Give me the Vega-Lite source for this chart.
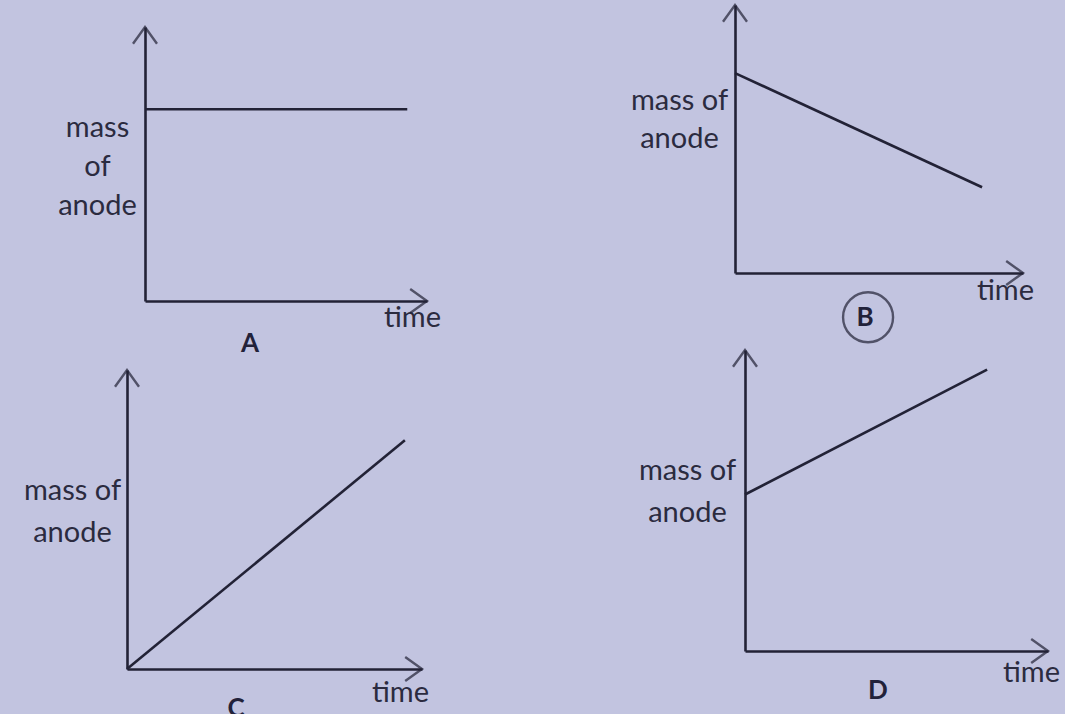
{
  "$schema": "https://vega.github.io/schema/vega-lite/v6.json",
  "background": "#c2c4e0",
  "padding": 0,
  "spacing": 0,
  "bounds": "flush",
  "align": "each",
  "columns": 2,
  "datasets": {
    "A": [{"time": 0, "mass": 0.7}, {"time": 0.93, "mass": 0.7}],
    "B": [{"time": 0, "mass": 0.746}, {"time": 0.858, "mass": 0.32}],
    "C": [{"time": 0, "mass": 0}, {"time": 0.942, "mass": 0.765}],
    "D": [{"time": 0, "mass": 0.52}, {"time": 0.799, "mass": 0.935}]
  },
  "config": {
    "view": {"stroke": null, "fill": null},
    "axis": {
      "ticks": false, "labels": false, "grid": false,
      "domainColor": "#222236", "domainWidth": 2.6,
      "titleFont": "Lato", "titleFontSize": 29, "titleFontWeight": "normal",
      "titleColor": "#2b2b3f", "titleAngle": 0, "titleAlign": "center", "titleBaseline": "middle"
    },
    "title": {"font": "Lato", "fontWeight": "bold", "fontSize": 26, "color": "#22223a", "anchor": "start", "frame": "group", "orient": "top"}
  },
  "concat": [
    {
      "width": 532, "height": 345,
      "data": {"name": "A"},
      "title": {"text": "A", "dx": 250, "offset": -370, "align": "center", "baseline": "middle"},
      "layer": [
        {
          "mark": {"type": "line", "stroke": "#222236", "strokeWidth": 2.6},
          "encoding": {
            "x": {"field": "time", "type": "quantitative",
              "scale": {"domain": [0, 1], "range": [145, 427], "nice": false, "zero": false},
              "axis": {"title": "time", "offset": -44, "titleX": 412, "titleY": 16}},
            "y": {"field": "mass", "type": "quantitative",
              "scale": {"domain": [0, 1], "range": [301, 27], "nice": false, "zero": false},
              "axis": {"title": ["mass", "of", "anode"], "offset": -145, "titleX": -48, "titleY": 127, "titleLineHeight": 39}}
          }
        },
        {
          "data": {"values": [{}]},
          "mark": {"type": "point", "shape": "M-1.4,-1L0,0L-1.4,1", "size": 576, "filled": false, "stroke": "#222236", "strokeWidth": 2.4},
          "encoding": {"x": {"datum": 1, "type": "quantitative"}, "y": {"datum": 0, "type": "quantitative"}}
        },
        {
          "data": {"values": [{}]},
          "mark": {"type": "point", "shape": "M-1,1.4L0,0L1,1.4", "size": 576, "filled": false, "stroke": "#222236", "strokeWidth": 2.4},
          "encoding": {"x": {"datum": 0, "type": "quantitative"}, "y": {"datum": 1, "type": "quantitative"}}
        }
      ]
    },
    {
      "width": 533, "height": 345,
      "data": {"name": "B"},
      "title": {"text": "B", "dx": 333, "offset": -344, "align": "center", "baseline": "middle"},
      "layer": [
        {
          "mark": {"type": "line", "stroke": "#222236", "strokeWidth": 2.6},
          "encoding": {
            "x": {"field": "time", "type": "quantitative",
              "scale": {"domain": [0, 1], "range": [203, 491], "nice": false, "zero": false},
              "axis": {"title": "time", "offset": -72, "titleX": 473, "titleY": 17}},
            "y": {"field": "mass", "type": "quantitative",
              "scale": {"domain": [0, 1], "range": [273, 5], "nice": false, "zero": false},
              "axis": {"title": ["mass of", "anode"], "offset": -203, "titleX": -56, "titleY": 100, "titleLineHeight": 38}}
          }
        },
        {
          "data": {"values": [{}]},
          "mark": {"type": "point", "shape": "M-1.4,-1L0,0L-1.4,1", "size": 576, "filled": false, "stroke": "#222236", "strokeWidth": 2.4},
          "encoding": {"x": {"datum": 1, "type": "quantitative"}, "y": {"datum": 0, "type": "quantitative"}}
        },
        {
          "data": {"values": [{}]},
          "mark": {"type": "point", "shape": "M-1,1.4L0,0L1,1.4", "size": 576, "filled": false, "stroke": "#222236", "strokeWidth": 2.4},
          "encoding": {"x": {"datum": 0, "type": "quantitative"}, "y": {"datum": 1, "type": "quantitative"}}
        },
        {
          "data": {"values": [{}]},
          "mark": {"type": "point", "shape": "circle", "size": 2500, "filled": false, "stroke": "#222236", "strokeWidth": 2.4},
          "encoding": {"x": {"datum": 0.462, "type": "quantitative"}, "y": {"datum": -0.165, "type": "quantitative"}}
        }
      ]
    },
    {
      "width": 532, "height": 369,
      "data": {"name": "C"},
      "title": {"text": "C", "dx": 236, "offset": -390, "align": "center", "baseline": "middle"},
      "layer": [
        {
          "mark": {"type": "line", "stroke": "#222236", "strokeWidth": 2.6},
          "encoding": {
            "x": {"field": "time", "type": "quantitative",
              "scale": {"domain": [0, 1], "range": [127, 422], "nice": false, "zero": false},
              "axis": {"title": "time", "offset": -45, "titleX": 400, "titleY": 23}},
            "y": {"field": "mass", "type": "quantitative",
              "scale": {"domain": [0, 1], "range": [324, 25], "nice": false, "zero": false},
              "axis": {"title": ["mass of", "anode"], "offset": -127, "titleX": -55, "titleY": 145, "titleLineHeight": 42}}
          }
        },
        {
          "data": {"values": [{}]},
          "mark": {"type": "point", "shape": "M-1.4,-1L0,0L-1.4,1", "size": 576, "filled": false, "stroke": "#222236", "strokeWidth": 2.4},
          "encoding": {"x": {"datum": 1, "type": "quantitative"}, "y": {"datum": 0, "type": "quantitative"}}
        },
        {
          "data": {"values": [{}]},
          "mark": {"type": "point", "shape": "M-1,1.4L0,0L1,1.4", "size": 576, "filled": false, "stroke": "#222236", "strokeWidth": 2.4},
          "encoding": {"x": {"datum": 0, "type": "quantitative"}, "y": {"datum": 1, "type": "quantitative"}}
        }
      ]
    },
    {
      "width": 533, "height": 369,
      "data": {"name": "D"},
      "title": {"text": "D", "dx": 346, "offset": -372, "align": "center", "baseline": "middle"},
      "layer": [
        {
          "mark": {"type": "line", "stroke": "#222236", "strokeWidth": 2.6},
          "encoding": {
            "x": {"field": "time", "type": "quantitative",
              "scale": {"domain": [0, 1], "range": [213, 516], "nice": false, "zero": false},
              "axis": {"title": "time", "offset": -63, "titleX": 499, "titleY": 21}},
            "y": {"field": "mass", "type": "quantitative",
              "scale": {"domain": [0, 1], "range": [306, 5], "nice": false, "zero": false},
              "axis": {"title": ["mass of", "anode"], "offset": -213, "titleX": -58, "titleY": 125, "titleLineHeight": 42}}
          }
        },
        {
          "data": {"values": [{}]},
          "mark": {"type": "point", "shape": "M-1.4,-1L0,0L-1.4,1", "size": 576, "filled": false, "stroke": "#222236", "strokeWidth": 2.4},
          "encoding": {"x": {"datum": 1, "type": "quantitative"}, "y": {"datum": 0, "type": "quantitative"}}
        },
        {
          "data": {"values": [{}]},
          "mark": {"type": "point", "shape": "M-1,1.4L0,0L1,1.4", "size": 576, "filled": false, "stroke": "#222236", "strokeWidth": 2.4},
          "encoding": {"x": {"datum": 0, "type": "quantitative"}, "y": {"datum": 1, "type": "quantitative"}}
        }
      ]
    }
  ]
}
